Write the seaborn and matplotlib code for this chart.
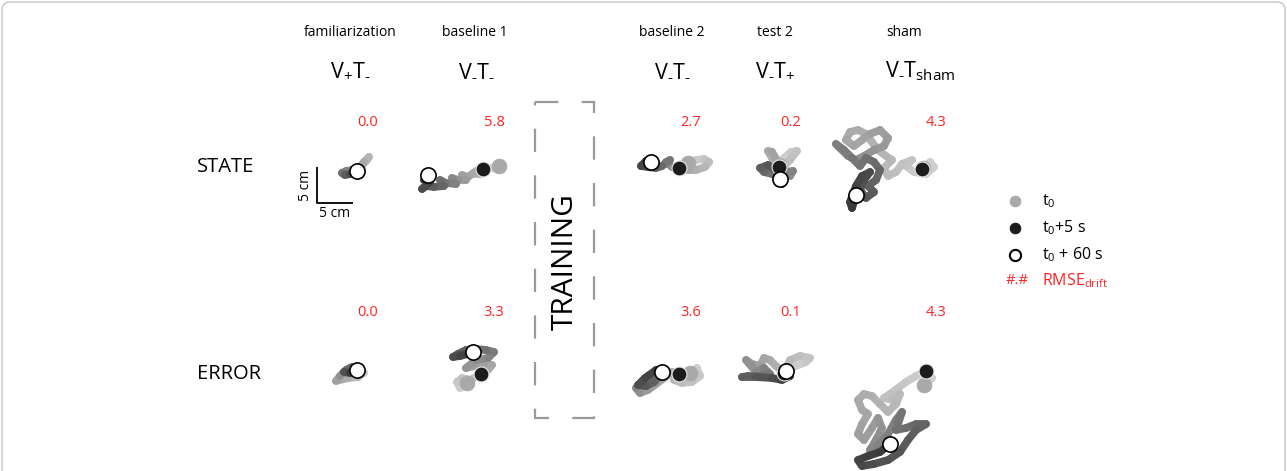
import numpy as np
import pandas as pd
import matplotlib
matplotlib.use("Agg")
import matplotlib.pyplot as plt
import seaborn as sns
from matplotlib.collections import LineCollection
from matplotlib.colors import LinearSegmentedColormap
from matplotlib.patches import Rectangle, FancyBboxPatch

# ---------------------------------------------------------------- data
conditions = ["familiarization", "baseline 1", "baseline 2", "test 2", "sham"]
condition_codes = ["$\\mathregular{V_{+}T_{\u2010}}$", "$\\mathregular{V_{\u2010}T_{\u2010}}$",
                   "$\\mathregular{V_{\u2010}T_{\u2010}}$", "$\\mathregular{V_{\u2010}T_{+}}$",
                   "$\\mathregular{V_{\u2010}T_{sham}}$"]
rows = ["STATE", "ERROR"]
rmse_state = [0.0, 5.8, 2.7, 0.2, 4.3]
rmse_error = [0.0, 3.3, 3.6, 0.1, 4.3]

# hand trajectories (cm) from t0 (first point) to t0 + 60 s (last point)
state_fam_x = [0.28, 0.97, 1.67, 1.94, 1.25, 0.69, -0.42, -1.25, -1.81, -1.39, -0.69, 0.00, 0.28]
state_fam_y = [0.14, 0.83, 1.67, 2.08, 1.39, 0.69, 0.28, 0.14, -0.14, -0.42, -0.28, 0.00, 0.14]

state_b1_x = [4.72, 3.75, 2.92, 2.50, 1.81, 2.92, 2.08, 0.97, 1.81, 0.42, -0.42, 0.14, -0.97,
              -1.81, -1.25, -2.64, -3.47, -2.92, -4.31, -5.42, -5.97, -4.86, -5.69, -5.14]
state_b1_y = [0.83, 0.56, 0.28, 0.42, 0.00, 0.56, -0.28, -0.28, 0.28, -0.69, -0.42, -1.11, -1.11,
              -0.83, -1.67, -1.53, -1.11, -1.94, -2.08, -1.94, -2.36, -1.39, -1.11, -0.42]

state_b2_x = [2.50, 3.61, 4.72, 5.42, 4.86, 3.61, 2.50, 1.67, 1.25, 0.28, -0.56, 0.00, -1.11,
              -1.94, -3.06, -4.03, -3.33, -2.64]
state_b2_y = [1.25, 1.67, 1.81, 1.39, 0.69, 0.28, 0.28, 0.56, 0.56, 0.69, 1.39, 1.67, 0.83,
              0.56, 0.69, 0.83, 1.53, 1.39]

state_t2_x = [0.14, 0.83, 1.81, 2.64, 1.67, 0.83, 0.14, -0.83, -1.39, -0.83, 0.00, 0.69, 1.67,
              2.08, 0.83, -0.83, -1.94, -2.50, -1.39, -0.28, 0.28, 0.56, 0.28]
state_t2_y = [0.97, 1.94, 2.78, 2.92, 1.67, 0.83, 0.69, 1.94, 2.92, 2.78, 1.39, 0.28, -0.56,
              0.14, 0.00, -0.28, 0.00, 0.56, 0.97, 0.28, -0.83, -1.67, -0.97]

state_sham_x = [5.28, 6.25, 6.81, 5.69, 4.03, 2.92, 3.75, 2.36, 1.53, 0.42, -0.14, 0.97, 0.14,
                -0.97, -1.81, -2.64, -3.75, -4.86, -5.42, -4.31, -3.19, -2.08, -0.69, 0.42,
                -0.14, -1.53, -2.92, -4.03, -5.14, -6.25, -6.81, -5.69, -4.58, -3.47, -2.64,
                -1.53, -0.69, -1.25, -2.36, -1.53, -2.64, -3.47, -2.92, -2.08, -3.19, -4.03,
                -4.86, -4.58, -4.03]
state_sham_y = [0.56, 1.39, 0.69, -0.28, 0.00, 0.83, 1.67, 1.11, 0.00, -0.56, 0.56, 1.67, 2.22,
                3.06, 4.17, 5.28, 5.83, 5.56, 4.44, 3.61, 4.44, 5.28, 5.83, 4.72,
                3.61, 3.06, 2.22, 1.67, 2.22, 3.33, 3.89, 3.06, 1.94, 0.83, 1.94,
                1.39, 0.28, -1.11, -1.94, -2.78, -3.61, -2.50, -1.11, 0.00, -0.56, -1.94,
                -4.17, -5.00, -3.19]

error_fam_x = [0.28, 1.25, 0.42, -0.97, -2.64, -2.08, -1.25, -0.42, -1.53, -0.69, 0.28]
error_fam_y = [0.69, 0.28, -0.28, -0.42, -0.83, -0.14, 0.69, 1.11, 0.42, 0.28, 0.69]

error_b1_x = [0.28, -0.69, -1.11, -0.42, 0.69, 1.53, 2.22, 3.19, 3.75, 2.64, 1.25, 0.14, 1.53,
              3.19, 4.03, 2.92, 1.53, 0.14, -0.97, -1.67, -0.69, 0.42, 1.11]
error_b1_y = [-1.11, -1.81, -0.97, -0.42, -0.69, -0.28, 0.14, 0.69, 1.39, 1.67, 1.25, 0.97, 2.08,
              2.36, 3.19, 3.47, 3.61, 3.47, 2.92, 2.50, 2.64, 2.92, 3.19]

error_b2_x = [2.78, 3.75, 4.17, 3.06, 1.67, 0.56, 1.25, 0.28, -0.83, -1.94, -3.06, -4.17, -4.72,
              -3.61, -2.50, -1.11, -2.22, -3.33, -4.44, -3.47, -1.94, -1.11]
error_b2_y = [0.28, 0.97, -0.14, -0.97, -1.11, -0.69, 0.14, 0.42, -0.42, -1.25, -2.08, -2.50, -1.81,
              -0.69, -0.14, 0.14, -0.97, -1.53, -1.39, -0.42, 0.69, 0.42]

error_t2_x = [1.11, 2.50, 3.89, 4.44, 3.06, 1.67, 0.83, -0.28, -1.11, -1.94, -2.50, -3.61, -4.44,
              -3.06, -1.94, -1.11, -2.50, -4.17, -5.00, -3.06, -0.83, 0.56, 1.67, 1.11]
error_t2_y = [0.56, 1.25, 1.81, 2.36, 2.64, 2.08, 0.28, 1.25, 2.08, 2.36, 1.25, 1.53, 2.08,
              0.42, 0.97, 0.14, -0.14, -0.14, -0.28, -0.28, -0.42, -0.69, -0.14, 0.56]

error_sham_x = [5.42, 6.53, 5.69, 4.31, 2.92, 1.81, 0.69, -0.14, 0.97, 2.08, 1.53, 0.42, -0.69,
                -1.81, -2.92, -3.75, -3.19, -2.36, -3.19, -3.75, -2.92, -1.81, -0.97, -0.42,
                -1.25, -2.08, -0.97, 0.42, 1.53, 2.36, 1.53, 2.92, 4.31, 5.69, 4.31, 3.19,
                2.08, 0.42, -1.53, -3.19, -3.75, -2.36, -0.69, 0.69]
error_sham_y = [-1.39, -0.42, 0.56, -0.14, -0.97, -1.81, -2.64, -3.19, -3.47, -2.64, -4.03, -5.14,
                -4.03, -2.92, -2.64, -3.47, -4.86, -5.42, -6.81, -8.19, -9.03, -7.36, -5.97,
                -7.36, -9.03, -10.42, -9.86, -8.19, -6.25, -5.14, -7.64, -7.36, -6.81, -6.81,
                -7.64, -9.03, -10.69, -11.81, -12.36, -12.64, -11.81, -11.25, -10.69, -9.58]

# position at t0 + 5 s (cm)
state_t5_x = [0.28, 2.50, 1.25, 0.14, 5.14]
state_t5_y = [0.14, 0.42, 0.56, 0.69, 0.42]
error_t5_x = [0.28, 2.22, 1.25, 0.83, 5.69]
error_t5_y = [0.69, 0.14, 0.14, 0.28, 0.56]

state_tracks = [(state_fam_x, state_fam_y), (state_b1_x, state_b1_y), (state_b2_x, state_b2_y),
                (state_t2_x, state_t2_y), (state_sham_x, state_sham_y)]
error_tracks = [(error_fam_x, error_fam_y), (error_b1_x, error_b1_y), (error_b2_x, error_b2_y),
                (error_t2_x, error_t2_y), (error_sham_x, error_sham_y)]

legend_labels = [r"$\mathregular{t_0}$", r"$\mathregular{t_0}$+5 s", r"$\mathregular{t_0}$ + 60 s"]

# ---------------------------------------------------------------- style
sns.set_theme(style="white")
plt.rcParams["font.family"] = ["Open Sans", "DejaVu Sans"]
plt.rcParams["mathtext.fontset"] = "custom"
plt.rcParams["mathtext.rm"] = "Open Sans"
plt.rcParams["mathtext.it"] = "Open Sans:italic"
plt.rcParams["mathtext.bf"] = "Open Sans:bold"

INK = "#000000"
RED = "#ff2323"
C_T0, C_T5, C_T60 = "#a9a9a9", "#1c1c1c", "white"
track_cmap = LinearSegmentedColormap.from_list("track", ["#d2d2d2", "#9a9a9a", "#3a3a3a"])

W, H = 1287, 471
fig = plt.figure(figsize=(W / 100, H / 100), dpi=100)

# overlay in pixel units for the annotation layer
over = fig.add_axes([0, 0, 1, 1], zorder=0)
over.set_xlim(0, W)
over.set_ylim(H, 0)
over.axis("off")
over.patch.set_alpha(0)

# panel layout (pixel centres); each panel shows a 30 cm x 30 cm window
col_px = [355, 465, 670, 778, 885]
row_px = [172, 375]
span_cm = 30.0
px_per_cm = 7.2
box = span_cm * px_per_cm


def draw_track(ax, xs, ys):
    pts = np.column_stack([xs, ys])
    segs = np.stack([pts[:-1], pts[1:]], axis=1)
    shade = np.linspace(0, 1, len(segs))
    lc = LineCollection(segs, colors=track_cmap(shade), linewidths=5.6,
                        capstyle="round", joinstyle="round", zorder=1)
    ax.add_collection(lc)


def draw_markers(ax, xs, ys, t5x, t5y):
    pts = pd.DataFrame({"x": [xs[0], t5x, xs[-1]], "y": [ys[0], t5y, ys[-1]],
                        "time": ["t0", "t5", "t60"]})
    sns.scatterplot(data=pts[pts.time == "t0"], x="x", y="y", color=C_T0, s=115,
                    edgecolor=C_T0, linewidth=0.5, ax=ax, zorder=3)
    sns.scatterplot(data=pts[pts.time == "t5"], x="x", y="y", color=C_T5, s=115,
                    edgecolor="#e6e6e6", linewidth=0.8, ax=ax, zorder=4)
    sns.scatterplot(data=pts[pts.time == "t60"], x="x", y="y", color=C_T60, s=120,
                    edgecolor="black", linewidth=1.2, ax=ax, zorder=5)


panel_axes = {}
for r, (tracks, t5x, t5y) in enumerate([(state_tracks, state_t5_x, state_t5_y),
                                        (error_tracks, error_t5_x, error_t5_y)]):
    for c, (xs, ys) in enumerate(tracks):
        cx, cy = col_px[c], row_px[r]
        ax = fig.add_axes([(cx - box / 2) / W, 1 - (cy + box / 2) / H, box / W, box / H],
                          zorder=2 + r * 5 + c)
        ax.set_xlim(-span_cm / 2, span_cm / 2)
        ax.set_ylim(-span_cm / 2, span_cm / 2)
        ax.axis("off")
        ax.patch.set_alpha(0)
        draw_track(ax, xs, ys)
        draw_markers(ax, xs, ys, t5x[c], t5y[c])
        ax.set_xlabel("")
        ax.set_ylabel("")
        panel_axes[(r, c)] = ax

# 5 cm scale bar in the first panel
sb = panel_axes[(0, 0)]
sb.plot([-5.28, -5.28, -0.28], [0.69, -4.31, -4.31], color="black", lw=1.3,
        solid_capstyle="butt", zorder=2)
sb.annotate("5 cm", xy=(-2.78, -4.31), xytext=(0, -7.5), textcoords="offset points",
            ha="center", va="center", fontsize=10, color=INK)
sb.annotate("5 cm", xy=(-5.28, -1.81), xytext=(-8.5, 0), textcoords="offset points",
            ha="center", va="center", rotation=90, fontsize=10, color=INK)

# ---------------------------------------------------------------- text layer
title_x = [350, 475, 672, 775, 904]
code_x = [350, 477, 673, 775, 920]
value_x = [368, 494, 691, 791, 936]
for i, name in enumerate(conditions):
    over.text(title_x[i], 33, name, ha="center", va="center", fontsize=10, color=INK)
    over.text(code_x[i], 71, condition_codes[i], ha="center", va="center", fontsize=15.5,
              color=INK)
    over.text(value_x[i], 123, f"{rmse_state[i]:.1f}", ha="center", va="center",
              fontsize=10.5, color=RED)
    over.text(value_x[i], 313, f"{rmse_error[i]:.1f}", ha="center", va="center",
              fontsize=10.5, color=RED)

for r, name in enumerate(rows):
    over.text(197, [167, 374][r], name, ha="left", va="center", fontsize=14.5, color=INK)

# training block
over.add_patch(Rectangle((535, 102), 59, 316, fill=False, edgecolor="#9a9a9a", lw=1.6,
                         linestyle=(0, (10.5, 10.5))))
over.text(565, 262, "TRAINING", rotation=90, ha="center", va="center", fontsize=21.5,
          color=INK)

# legend
leg = pd.DataFrame({"x": [1015, 1015, 1015], "y": [201, 228, 255],
                    "label": legend_labels})
sns.scatterplot(x=[1015], y=[201], color=C_T0, edgecolor=C_T0, s=60, ax=over)
sns.scatterplot(x=[1015], y=[228], color=C_T5, edgecolor=C_T5, s=60, ax=over)
sns.scatterplot(x=[1015], y=[255], color="white", edgecolor="black", linewidth=1.5, s=65,
                ax=over)
for _, row in leg.iterrows():
    over.text(1042, row.y, row.label, ha="left", va="center", fontsize=11.5, color=INK)
over.text(1017, 281, "#.#", ha="center", va="center", fontsize=10.5, color=RED)
over.text(1042, 281, r"RMSE$_{\mathregular{drift}}$", ha="left", va="center", fontsize=11.5,
          color=RED)
over.set_xlim(0, W)
over.set_ylim(H, 0)
over.set_xlabel("")
over.set_ylabel("")

# outer frame
over.add_patch(FancyBboxPatch((2, 2), W - 4, H + 30, boxstyle="round,pad=0,rounding_size=8",
                              fill=False, edgecolor="#c4c4c4", lw=1.0, clip_on=False))

fig.savefig("out.png", dpi=100)
